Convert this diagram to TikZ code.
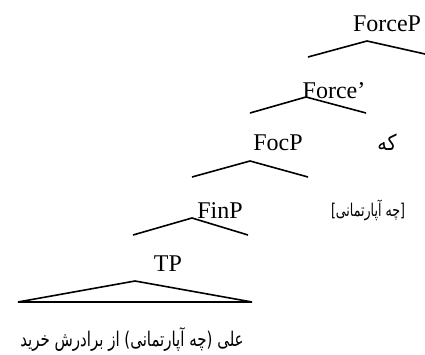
\documentclass[tikz,border=0pt]{standalone}
\usepackage{graphicx}
\usepackage{fontspec}
\setmainfont{Liberation Serif}
\newfontfamily\arabicfont[Script=Arabic]{DejaVu Sans}
\TeXXeTstate=1
\begin{document}
\begin{tikzpicture}[x=1pt,y=-1pt,
  lab/.style={inner sep=0pt,font=\fontsize{24}{24}\selectfont},
  fa/.style={inner sep=0pt,font=\arabicfont\fontsize{15}{15}\selectfont},
  br/.style={line width=1.6pt,line join=miter}]
\useasboundingbox (0,0) rectangle (425,355);
\node[lab] (forcep) at (387,24) {ForceP};
\node[lab] (forcebar) at (334,91) {Force’};
\node[lab] (focp) at (278,143) {FocP};
\node[fa,font=\arabicfont\fontsize{19}{19}\selectfont] (ke) at (387,142) {\scalebox{1}[1.15]{\beginR که\endR}};
\node[lab] (finp) at (220,211) {FinP};
\node[fa,font=\arabicfont\fontsize{12.6}{12.6}\selectfont] (wh) at (368,210) {\scalebox{1}[1.4]{\beginR [چه آپارتمانی]\endR}};
\node[lab] (tp) at (168,264) {TP};
\node[fa] (sent) at (132,339) {\scalebox{1}[1.35]{\beginR علی (چه آپارتمانی) از برادرش خرید\endR}};
\coordinate (a1) at (367,41);
\coordinate (l1) at (308,57);
\coordinate (r1) at (425,54);
\coordinate (a2) at (306,97);
\coordinate (l2) at (250,113);
\coordinate (r2) at (366,113);
\coordinate (a3) at (250,161);
\coordinate (l3) at (192,177);
\coordinate (r3) at (308,177);
\coordinate (a4) at (192,218);
\coordinate (l4) at (133,235);
\coordinate (r4) at (248,235);
\coordinate (a5) at (135,281);
\coordinate (l5) at (18,302);
\coordinate (r5) at (252,302);
\draw[br] (l1) -- (a1) -- (r1);
\draw[br] (l2) -- (a2) -- (r2);
\draw[br] (l3) -- (a3) -- (r3);
\draw[br] (l4) -- (a4) -- (r4);
\draw[br] (a5) -- (l5) -- (r5) -- cycle;
\end{tikzpicture}
\end{document}
